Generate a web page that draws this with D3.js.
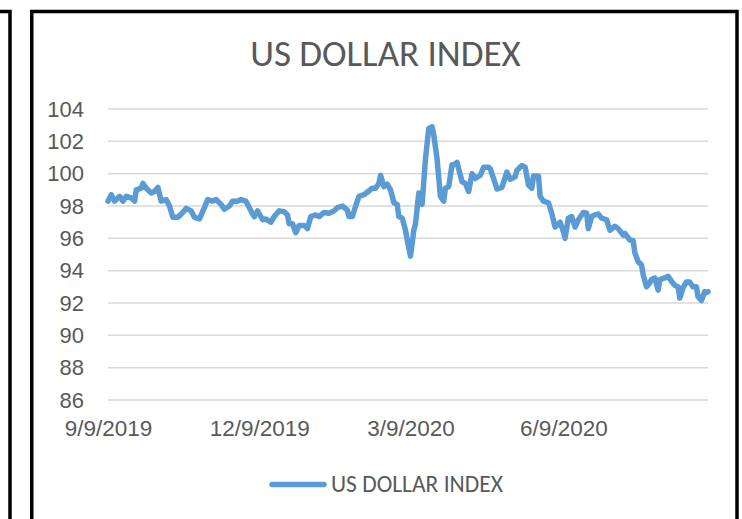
<!DOCTYPE html>
<html>
<head>
<meta charset="utf-8">
<script src="https://cdn.jsdelivr.net/npm/d3@7"></script>
<style>
  html, body { margin: 0; padding: 0; background: #fff; }
  svg { display: block; font-family: Carlito, "Open Sans", "Liberation Sans", sans-serif; }
</style>
</head>
<body>
<div id="chart"></div>
<script>
// US Dollar Index
const dates = [
  '2019-09-09','2019-09-11','2019-09-13','2019-09-16','2019-09-18','2019-09-20','2019-09-23','2019-09-25','2019-09-26','2019-09-29',
  '2019-09-30','2019-10-02','2019-10-05','2019-10-07','2019-10-09','2019-10-11','2019-10-14','2019-10-16','2019-10-18','2019-10-21',
  '2019-10-24','2019-10-26','2019-10-29','2019-10-31','2019-11-03','2019-11-06','2019-11-08','2019-11-11','2019-11-13','2019-11-16',
  '2019-11-18','2019-11-21','2019-11-23','2019-11-26','2019-11-28','2019-12-01','2019-12-04','2019-12-06','2019-12-08','2019-12-11',
  '2019-12-13','2019-12-16','2019-12-18','2019-12-21','2019-12-24','2019-12-26','2019-12-27','2019-12-29','2019-12-31','2020-01-02',
  '2020-01-05','2020-01-07','2020-01-09','2020-01-12','2020-01-14','2020-01-17','2020-01-20','2020-01-23','2020-01-25','2020-01-28',
  '2020-01-31','2020-02-01','2020-02-03','2020-02-05','2020-02-07','2020-02-10','2020-02-12','2020-02-15','2020-02-17','2020-02-19',
  '2020-02-20','2020-02-22','2020-02-24','2020-02-26','2020-02-28','2020-03-01','2020-03-02','2020-03-04','2020-03-06','2020-03-07',
  '2020-03-09','2020-03-11','2020-03-12','2020-03-14','2020-03-15','2020-03-16','2020-03-18','2020-03-20','2020-03-22','2020-03-23',
  '2020-03-25','2020-03-27','2020-03-29','2020-03-30','2020-04-01','2020-04-03','2020-04-04','2020-04-06','2020-04-08','2020-04-09',
  '2020-04-11','2020-04-13','2020-04-15','2020-04-17','2020-04-20','2020-04-22','2020-04-25','2020-04-26','2020-04-28','2020-04-30',
  '2020-05-03','2020-05-06','2020-05-08','2020-05-11','2020-05-12','2020-05-15','2020-05-17','2020-05-19','2020-05-21','2020-05-22',
  '2020-05-25','2020-05-26','2020-05-28','2020-05-31','2020-06-02','2020-06-04','2020-06-07','2020-06-09','2020-06-10','2020-06-12',
  '2020-06-14','2020-06-16','2020-06-18','2020-06-21','2020-06-23','2020-06-24','2020-06-26','2020-06-28','2020-06-30','2020-07-02',
  '2020-07-05','2020-07-07','2020-07-10','2020-07-12','2020-07-15','2020-07-16','2020-07-19','2020-07-21','2020-07-22','2020-07-24',
  '2020-07-26','2020-07-27','2020-07-29','2020-07-31','2020-08-01','2020-08-03','2020-08-05','2020-08-06','2020-08-09','2020-08-11',
  '2020-08-13','2020-08-15','2020-08-17','2020-08-18','2020-08-20','2020-08-22','2020-08-24','2020-08-26','2020-08-28','2020-08-29',
  '2020-08-31','2020-09-02','2020-09-03','2020-09-04'
];
const values = [
  98.3, 98.7, 98.3, 98.6, 98.3, 98.6, 98.5, 98.3, 99.0, 99.1,
  99.4, 99.1, 98.8, 98.9, 99.15, 98.3, 98.4, 98.0, 97.3, 97.3,
  97.6, 97.85, 97.7, 97.3, 97.2, 97.9, 98.4, 98.3, 98.4, 98.1,
  97.8, 98.0, 98.3, 98.3, 98.4, 98.3, 97.7, 97.35, 97.7, 97.15,
  97.2, 97.0, 97.35, 97.7, 97.65, 97.45, 96.9, 96.9, 96.35, 96.8,
  96.8, 96.6, 97.35, 97.45, 97.35, 97.6, 97.55, 97.7, 97.9, 98.0,
  97.75, 97.35, 97.35, 98.0, 98.6, 98.7, 98.85, 99.1, 99.1, 99.4,
  99.9, 99.2, 99.35, 99.0, 98.2, 98.1, 97.35, 97.25, 96.5, 95.9,
  94.9, 96.5, 96.9, 98.8, 98.7, 98.1, 100.9, 102.8, 102.9, 102.4,
  100.9, 98.6, 98.3, 99.1, 99.2, 100.55, 100.55, 100.7, 99.9, 99.5,
  99.4, 98.9, 100.0, 99.7, 99.9, 100.4, 100.4, 100.3, 99.7, 99.05,
  99.15, 100.1, 99.65, 99.8, 100.2, 100.5, 100.4, 99.3, 99.1, 99.85,
  99.85, 98.6, 98.3, 98.2, 97.55, 96.7, 97.0, 96.4, 96.0, 97.25,
  97.35, 96.7, 97.15, 97.6, 97.55, 96.6, 97.35, 97.45, 97.5, 97.25,
  97.15, 96.5, 96.75, 96.6, 96.2, 96.3, 95.9, 95.85, 95.1, 94.55,
  94.35, 93.75, 93.0, 93.25, 93.45, 93.55, 92.8, 93.45, 93.55, 93.65,
  93.35, 93.1, 93.0, 92.3, 92.95, 93.3, 93.3, 93.0, 93.0, 92.4,
  92.15, 92.7, 92.65, 92.7
];
const yTicks = [86, 88, 90, 92, 94, 96, 98, 100, 102, 104];
const xTickDates = ['2019-09-09', '2019-12-09', '2020-03-09', '2020-06-09'];
const seriesName = 'US DOLLAR INDEX';
const chartTitle = 'US DOLLAR INDEX';

const parse = d3.utcParse('%Y-%m-%d');
const data = dates.map((d, i) => ({ date: parse(d), value: values[i] }));

const width = 742, height = 519;
const plot = { left: 108, right: 708, top: 109, bottom: 400 };
const textColor = '#595959';
const lineColor = '#5b9bd5';

const svg = d3.select('#chart').append('svg')
  .attr('width', width)
  .attr('height', height);

svg.append('rect').attr('width', width).attr('height', height).attr('fill', '#fff');

// frames: neighbour chart on the left edge, this chart's border
svg.append('path')
  .attr('d', `M-5,11.5 H10 V${height + 5}`)
  .attr('fill', 'none').attr('stroke', '#000').attr('stroke-width', 3.5);
svg.append('rect')
  .attr('x', 31.75).attr('y', 11.5)
  .attr('width', 737 - 31.75).attr('height', height)
  .attr('fill', 'none').attr('stroke', '#000').attr('stroke-width', 3.5);

// scales
const x = d3.scaleUtc()
  .domain([data[0].date, data[data.length - 1].date])
  .range([plot.left, plot.right]);
const y = d3.scaleLinear()
  .domain([86, 104])
  .range([plot.bottom, plot.top]);

// gridlines
svg.append('g')
  .selectAll('line')
  .data(yTicks)
  .join('line')
  .attr('x1', plot.left)
  .attr('x2', plot.right)
  .attr('y1', d => y(d))
  .attr('y2', d => y(d))
  .attr('stroke', '#d9d9d9')
  .attr('stroke-width', 1.5);

// y axis
const yAxis = d3.axisLeft(y).tickValues(yTicks).tickSize(0).tickPadding(24);
const yAxisG = svg.append('g')
  .attr('transform', `translate(${plot.left},0)`)
  .call(yAxis);
yAxisG.select('.domain').remove();
yAxisG.selectAll('text')
  .attr('fill', textColor)
  .style('font-size', '22px');

// x axis (date axis, labels every 3 months)
const fmt = d => `${d.getUTCMonth() + 1}/${d.getUTCDate()}/${d.getUTCFullYear()}`;
const xAxis = d3.axisBottom(x)
  .tickValues(xTickDates.map(parse))
  .tickFormat(fmt)
  .tickSize(0)
  .tickPadding(20);
const xAxisG = svg.append('g')
  .attr('transform', `translate(0,${plot.bottom})`)
  .call(xAxis);
xAxisG.select('.domain').remove();
xAxisG.selectAll('text')
  .attr('fill', textColor)
  .style('font-size', '22.5px');

// series line
const line = d3.line()
  .x(d => x(d.date))
  .y(d => y(d.value));
svg.append('path')
  .datum(data)
  .attr('d', line)
  .attr('fill', 'none')
  .attr('stroke', lineColor)
  .attr('stroke-width', 5.5)
  .attr('stroke-linejoin', 'round')
  .attr('stroke-linecap', 'round');

// title
svg.append('text')
  .attr('x', 385.5)
  .attr('y', 66)
  .attr('text-anchor', 'middle')
  .attr('fill', textColor)
  .style('font-size', '37px')
  .text(chartTitle);

// legend
svg.append('line')
  .attr('x1', 272).attr('x2', 324)
  .attr('y1', 484.5).attr('y2', 484.5)
  .attr('stroke', lineColor)
  .attr('stroke-width', 5.5)
  .attr('stroke-linecap', 'round');
svg.append('text')
  .attr('x', 331)
  .attr('y', 492)
  .attr('fill', textColor)
  .style('font-size', '23.5px')
  .text(seriesName);
</script>
</body>
</html>
